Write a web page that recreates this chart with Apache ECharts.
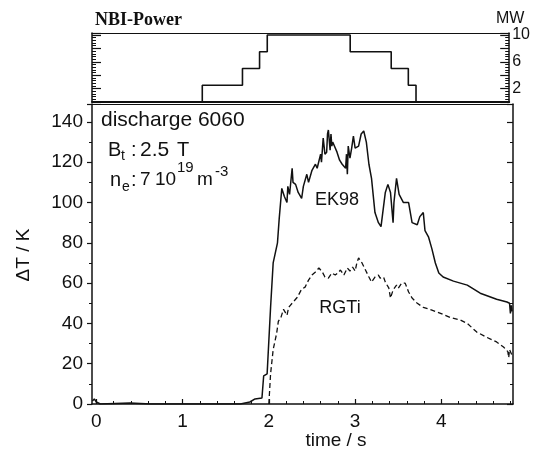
<!DOCTYPE html>
<html><head><meta charset="utf-8">
<script src="https://cdn.jsdelivr.net/npm/echarts@6/dist/echarts.min.js"></script>
<style>html,body{margin:0;padding:0;background:#fff}#c{width:533px;height:454px}</style>
</head><body><div id="c"></div>
<script>
// ---- data ----
const timeTickLabels = [0, 1, 2, 3, 4];
const timeMinorTicks = [0.2,0.4,0.6,0.8,1.2,1.4,1.6,1.8,2.2,2.4,2.6,2.8,3.2,3.4,3.6,3.8,4.2,4.4,4.6,4.8];
const deltaTTickLabels = [0, 20, 40, 60, 80, 100, 120, 140];
const nbiTickLabels = [2, 6, 10];

const nbiTime  = [-0.05, 1.24, 1.71, 1.91, 2.00, 2.97, 3.45, 3.65, 3.74, 4.83];
const nbiPower = [0,     2.5,  5,    7.5,  10,   7.5,  5,    2.5,  0,    0];

const ek98Time = [-0.046,-0.023,0,0.046,0.39,0.63,1.2,1.67,1.78,1.84,1.92,1.94,1.98,2.02,2.05,2.10,2.12,2.15,2.18,2.21,2.22,2.24,2.27,2.28,2.31,2.34,2.38,2.40,2.44,2.46,2.48,2.50,2.54,2.56,2.60,2.61,2.63,2.65,2.67,2.68,2.69,2.71,2.72,2.73,2.74,2.79,2.82,2.85,2.89,2.90,2.91,2.92,2.94,2.96,2.98,3.00,3.04,3.07,3.10,3.13,3.16,3.19,3.23,3.27,3.30,3.35,3.38,3.41,3.44,3.45,3.48,3.51,3.56,3.62,3.66,3.72,3.75,3.79,3.81,3.85,3.89,3.93,3.97,4.02,4.14,4.30,4.45,4.64,4.76,4.79,4.80,4.81,4.82];
const ek98Values = [1.5,2.5,1,0,0.5,0,0,0,1,2.5,3,14,15,48,70,80,92,107,103,100,108,104,117,110,109,105,102,108,114,110,110,116,119,117,124,120,132,124,125,134,136,126,134,128,130,125,121,119,117,124,114,128,122,127,133,127,128,134,135.5,130,119,112,95,90,88,105,109,105,90,100,112,104,100,100,90,89,93,95,86,83,77,70,65,63,61,59,55,52,50.6,50,45,49,46];

const rgtiTime = [2.00,2.02,2.05,2.09,2.11,2.14,2.17,2.21,2.23,2.27,2.33,2.38,2.42,2.46,2.50,2.54,2.58,2.62,2.65,2.69,2.73,2.77,2.80,2.83,2.87,2.91,2.94,2.97,3.00,3.02,3.04,3.08,3.12,3.16,3.19,3.23,3.27,3.29,3.33,3.35,3.39,3.41,3.44,3.48,3.50,3.54,3.58,3.62,3.66,3.72,3.79,3.89,3.99,4.10,4.22,4.30,4.41,4.53,4.64,4.72,4.77,4.78,4.79,4.82];
const rgtiValues = [0,15,27,35,41,43,47,44,48,50,53,57,58,61.5,64,65.5,67.5,65.5,63,62.5,65,64,65,66.5,64,67.5,66,68,66,70,72.5,70,66.5,63,60.5,63,64,62.5,63,60.5,57.6,52.6,56.6,59,57.5,60,60,55.6,52.6,50,48,46.6,45,43,41.7,40,35.7,33,30.8,28.3,26,23,27,24];

const zip = (a, b) => a.map((v, i) => [v, b[i]]);

// ---- chart ----
const chart = echarts.init(document.getElementById('c'), null, {renderer: 'canvas'});
const INK = '#111';
const SANS = '"Liberation Sans", Arial, Helvetica, sans-serif';
const SERIF = '"Liberation Serif", "Times New Roman", serif';
const X_MIN = -0.05, X_MAX = 4.83;

function txt(x, y, text, size, extra) {
  return Object.assign({type: 'text', x: x, y: y, style: {text: text, font: size + 'px ' + SANS, fill: INK, align: 'left', verticalAlign: 'middle'}}, extra || {});
}

const option = {
  animation: false,
  backgroundColor: '#fff',
  grid: [
    {left: 92, right: 22, top: 33, height: 69},
    {left: 92, right: 20, top: 104, height: 300}
  ],
  xAxis: [
    {gridIndex: 0, type: 'value', min: X_MIN, max: X_MAX, position: 'bottom',
     axisLine: {show: true, onZero: false, lineStyle: {color: INK, width: 2}},
     axisTick: {show: false}, axisLabel: {show: false}, splitLine: {show: false}},
    {gridIndex: 0, type: 'value', min: X_MIN, max: X_MAX, position: 'top',
     axisLine: {show: true, onZero: false, lineStyle: {color: INK, width: 1.2}},
     axisTick: {show: false}, axisLabel: {show: false}, splitLine: {show: false}},
    {gridIndex: 1, type: 'value', min: X_MIN, max: X_MAX, position: 'bottom',
     axisLine: {show: true, onZero: false, lineStyle: {color: INK, width: 1.5}},
     axisTick: {show: true, inside: true, length: 5, customValues: timeTickLabels, lineStyle: {color: INK, width: 1.2}},
     axisLabel: {show: true, customValues: timeTickLabels, margin: 8, color: INK, fontSize: 19, fontFamily: SANS},
     splitLine: {show: false}},
    {gridIndex: 1, type: 'value', min: X_MIN, max: X_MAX, position: 'bottom',
     axisLine: {show: false},
     axisTick: {show: true, inside: true, length: 3, customValues: timeMinorTicks, lineStyle: {color: INK, width: 1}},
     axisLabel: {show: false}, splitLine: {show: false}},
    {gridIndex: 1, type: 'value', min: X_MIN, max: X_MAX, position: 'top',
     axisLine: {show: true, onZero: false, lineStyle: {color: INK, width: 1.2}},
     axisTick: {show: false}, axisLabel: {show: false}, splitLine: {show: false}}
  ],
  yAxis: [
    {gridIndex: 0, type: 'value', min: 0, max: 10.3, interval: 2, position: 'left',
     axisLine: {show: true, onZero: false, lineStyle: {color: INK, width: 1.5}},
     axisTick: {show: true, inside: true, length: 9, lineStyle: {color: INK, width: 1.2}},
     minorTick: {show: true, splitNumber: 5, length: 4, lineStyle: {color: INK, width: 1}},
     axisLabel: {show: false}, splitLine: {show: false}},
    {gridIndex: 0, type: 'value', min: 0, max: 10.3, interval: 2, position: 'right',
     axisLine: {show: true, onZero: false, lineStyle: {color: INK, width: 1.5}},
     axisTick: {show: true, inside: true, length: 9, lineStyle: {color: INK, width: 1.2}},
     minorTick: {show: true, splitNumber: 5, length: 4, lineStyle: {color: INK, width: 1}},
     axisLabel: {show: true, customValues: nbiTickLabels, margin: 3, color: INK, fontSize: 16, fontFamily: SANS},
     splitLine: {show: false}},
    {gridIndex: 1, type: 'value', min: 0, max: 148.9, interval: 20, position: 'left',
     axisLine: {show: true, onZero: false, lineStyle: {color: INK, width: 1.5}},
     axisTick: {show: true, inside: false, length: 5, lineStyle: {color: INK, width: 1.2}},
     minorTick: {show: true, splitNumber: 2, length: 3, lineStyle: {color: INK, width: 1}},
     axisLabel: {show: true, customValues: deltaTTickLabels, margin: 9, color: INK, fontSize: 19, fontFamily: SANS},
     splitLine: {show: false}},
    {gridIndex: 1, type: 'value', min: 0, max: 148.9, interval: 20, position: 'right',
     axisLine: {show: true, onZero: false, lineStyle: {color: INK, width: 1.5}},
     axisTick: {show: true, inside: true, length: 6, lineStyle: {color: INK, width: 1.2}},
     minorTick: {show: true, splitNumber: 2, length: 3, lineStyle: {color: INK, width: 1}},
     axisLabel: {show: false}, splitLine: {show: false}}
  ],
  series: [
    {name: 'NBI-Power', type: 'line', xAxisIndex: 0, yAxisIndex: 0, step: 'end',
     data: zip(nbiTime, nbiPower), showSymbol: false, symbol: 'none',
     lineStyle: {color: INK, width: 1.6}},
    {name: 'EK98', type: 'line', xAxisIndex: 2, yAxisIndex: 2,
     data: zip(ek98Time, ek98Values), showSymbol: false, symbol: 'none',
     lineStyle: {color: INK, width: 1.5}},
    {name: 'RGTi', type: 'line', xAxisIndex: 2, yAxisIndex: 2,
     data: zip(rgtiTime, rgtiValues), showSymbol: false, symbol: 'none',
     lineStyle: {color: INK, width: 1.3, type: [5, 3]}}
  ],
  graphic: [
    {type: 'text', x: 95, y: 20, style: {text: 'NBI-Power', font: 'bold 18px ' + SERIF, fill: INK, align: 'left', verticalAlign: 'middle'}},
    txt(496, 19, 'MW', 16),
    txt(101, 120, 'discharge 6060', 21),
    txt(108, 150, 'B', 20),
    txt(121, 156, 't', 14),
    txt(131, 150, ':', 20),
    txt(140, 150, '2.5', 21),
    txt(177, 150, 'T', 20),
    txt(110, 180, 'n', 20),
    txt(122, 187, 'e', 14),
    txt(131, 180, ':', 20),
    txt(140, 180, '7', 19),
    txt(155, 180, '10', 19),
    txt(177, 168, '19', 15),
    txt(197, 180, 'm', 19),
    txt(215, 172, '-3', 15),
    {type: 'text', x: 337, y: 200, style: {text: 'EK98', font: '18px ' + SANS, fill: INK, align: 'center', verticalAlign: 'middle'}},
    {type: 'text', x: 340, y: 308, style: {text: 'RGTi', font: '18px ' + SANS, fill: INK, align: 'center', verticalAlign: 'middle'}},
    {type: 'text', x: 24, y: 255, rotation: Math.PI / 2, style: {text: 'ΔT / K', font: '19px ' + SANS, fill: INK, align: 'center', verticalAlign: 'middle'}},
    {type: 'text', x: 336, y: 441, style: {text: 'time / s', font: '19px ' + SANS, fill: INK, align: 'center', verticalAlign: 'middle'}}
  ]
};
chart.setOption(option);
</script>
</body></html>
